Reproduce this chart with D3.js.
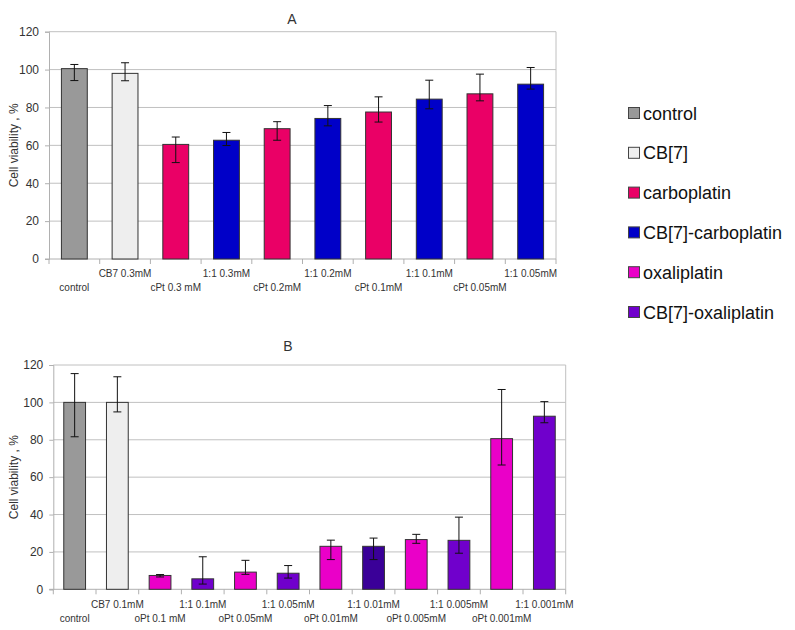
<!DOCTYPE html>
<html><head><meta charset="utf-8">
<script src="https://cdn.jsdelivr.net/npm/d3@7/dist/d3.min.js"></script>
<style>body{margin:0;background:#fff;font-family:"Liberation Sans",Arial,sans-serif;}</style>
</head><body><svg id="c" width="795" height="630"></svg>
<script>
// Panel A data
const categoriesA = ["control","CB7 0.3mM","cPt 0.3 mM","1:1 0.3mM","cPt 0.2mM","1:1 0.2mM","cPt 0.1mM","1:1 0.1mM","cPt 0.05mM","1:1 0.05mM"];
const valuesA  = [100.5, 98, 60.5, 62.7, 68.8, 74.2, 77.6, 84.4, 87.2, 92.3];
const errLowA  = [94.2, 94.1, 50.9, 59.9, 62.7, 70.3, 72.3, 79.3, 83.5, 89.7];
const errHighA = [102.7, 103.6, 64.4, 66.8, 72.5, 81.0, 85.6, 94.4, 97.6, 101.1];
const groupA   = ["control","CB[7]","carboplatin","CB[7]-carboplatin","carboplatin","CB[7]-carboplatin","carboplatin","CB[7]-carboplatin","carboplatin","CB[7]-carboplatin"];

// Panel B data
const categoriesB = ["control","CB7 0.1mM","oPt 0.1 mM","1:1 0.1mM","oPt 0.05mM","1:1 0.05mM","oPt 0.01mM","1:1 0.01mM","oPt 0.005mM","1:1 0.005mM","oPt 0.001mM","1:1 0.001mM"];
const valuesB  = [100, 100, 7.4, 5.6, 9.2, 8.6, 23, 23, 26.6, 26.2, 80.6, 92.6];
const errLowB  = [81.6, 94.9, 6.6, 2.8, 8.0, 6.0, 15.9, 15.9, 24.6, 19.3, 66.5, 89.1];
const errHighB = [115.4, 113.7, 7.9, 17.4, 15.5, 12.7, 26.3, 27.4, 29.4, 38.6, 106.9, 100.4];
const groupB   = ["control","CB[7]","oxaliplatin","CB[7]-oxaliplatin","oxaliplatin","CB[7]-oxaliplatin","oxaliplatin","CB[7]-oxaliplatin*","oxaliplatin","CB[7]-oxaliplatin","oxaliplatin","CB[7]-oxaliplatin"];

const yTicks = [0,20,40,60,80,100,120];
const legendItems = ["control","CB[7]","carboplatin","CB[7]-carboplatin","oxaliplatin","CB[7]-oxaliplatin"];
const colorMap = {
  "control":"#999999","CB[7]":"#eeeeee","carboplatin":"#ea0066","CB[7]-carboplatin":"#0000c8",
  "oxaliplatin":"#ea00c8","CB[7]-oxaliplatin":"#7000cc","CB[7]-oxaliplatin*":"#3a0098"
};

const svg = d3.select("#c");

function panel(cfg){
  const {cats, vals, lo, hi, grp, x0, x1, y0, y1, title, titleX, titleY, rowY1, rowY2, labelY} = cfg;
  const x = d3.scaleBand().domain(cats).range([x0, x1]).padding(0);
  const y = d3.scaleLinear().domain([0,120]).range([y0, y1]);
  const g = svg.append("g");
  // gridlines
  g.selectAll(".grid").data(yTicks.filter(d=>d>0)).enter().append("line")
    .attr("x1", x0).attr("x2", x1).attr("y1", d=>y(d)).attr("y2", d=>y(d))
    .attr("stroke", "#c0c0c0").attr("stroke-width", 1);
  // right border
  g.append("line").attr("x1", x1).attr("x2", x1).attr("y1", y(0)).attr("y2", y(120))
    .attr("stroke", "#c0c0c0");
  // y axis
  const ya = d3.axisLeft(y).tickValues(yTicks).tickSize(4).tickPadding(6);
  const yg = g.append("g").attr("transform", `translate(${x0},0)`).call(ya);
  yg.select(".domain").attr("stroke", "#b0b0b0");
  yg.selectAll(".tick line").attr("stroke", "#b0b0b0");
  yg.selectAll("text").attr("font-size", 12).attr("fill", "#333")
    .attr("font-family", '"Liberation Sans",Arial,sans-serif');
  // x axis baseline and boundary ticks
  g.append("line").attr("x1", x0-4).attr("x2", x1).attr("y1", y(0)).attr("y2", y(0)).attr("stroke", "#b0b0b0");
  const bounds = cats.map(c => x(c)).concat([x1]);
  g.selectAll(".bt").data(bounds).enter().append("line")
    .attr("x1", d=>d).attr("x2", d=>d).attr("y1", y(0)).attr("y2", y(0)+5).attr("stroke", "#b0b0b0");
  // x labels alternating rows
  g.selectAll(".xl").data(cats).enter().append("text")
    .attr("x", d => x(d) + x.bandwidth()/2)
    .attr("y", (d,i) => i % 2 === 0 ? rowY2 : rowY1)
    .attr("text-anchor", "middle").attr("font-size", 10).attr("fill", "#333")
    .text(d => d);
  // bars
  const bw = x.bandwidth()*0.51;
  g.selectAll(".bar").data(cats).enter().append("rect")
    .attr("x", d => x(d) + x.bandwidth()/2 - bw/2)
    .attr("y", (d,i) => y(vals[i]))
    .attr("width", bw)
    .attr("height", (d,i) => y(0) - y(vals[i]))
    .attr("fill", (d,i) => colorMap[grp[i]])
    .attr("stroke", "#333").attr("stroke-width", 1);
  // error bars
  const eb = g.selectAll(".eb").data(cats).enter().append("g");
  eb.append("line").attr("x1", d=>x(d)+x.bandwidth()/2).attr("x2", d=>x(d)+x.bandwidth()/2)
    .attr("y1", (d,i)=>y(lo[i])).attr("y2", (d,i)=>y(hi[i])).attr("stroke", "#111");
  [lo, hi].forEach(arr => {
    eb.append("line").attr("x1", d=>x(d)+x.bandwidth()/2-4).attr("x2", d=>x(d)+x.bandwidth()/2+4)
      .attr("y1", (d,i)=>y(arr[i])).attr("y2", (d,i)=>y(arr[i])).attr("stroke", "#111");
  });
  // title
  g.append("text").attr("x", titleX).attr("y", titleY).attr("text-anchor", "middle")
    .attr("font-size", 14).attr("fill", "#333").text(title);
  // y label
  g.append("text").attr("transform", `translate(18,${(y0+y1)/2}) rotate(-90)`)
    .attr("text-anchor", "middle").attr("font-size", 12).attr("fill", "#333")
    .text("Cell viability , %");
}

panel({cats:categoriesA, vals:valuesA, lo:errLowA, hi:errHighA, grp:groupA,
  x0:49, x1:556, y0:259, y1:31.7, title:"A", titleX:292, titleY:24, rowY1:277, rowY2:291});
panel({cats:categoriesB, vals:valuesB, lo:errLowB, hi:errHighB, grp:groupB,
  x0:53.3, x1:565.7, y0:589.3, y1:365, title:"B", titleX:288, titleY:351, rowY1:608, rowY2:622});

// legend
const lg = svg.append("g");
legendItems.forEach((d,i) => {
  const cy = 113 + i*39.8;
  lg.append("rect").attr("x", 628.5).attr("y", cy-5.5).attr("width", 11).attr("height", 11)
    .attr("fill", colorMap[d]).attr("stroke", "#444").attr("stroke-width", 1);
  lg.append("text").attr("x", 643).attr("y", cy+6.5).attr("font-size", 18).attr("fill", "#111").text(d);
});
</script></body></html>
